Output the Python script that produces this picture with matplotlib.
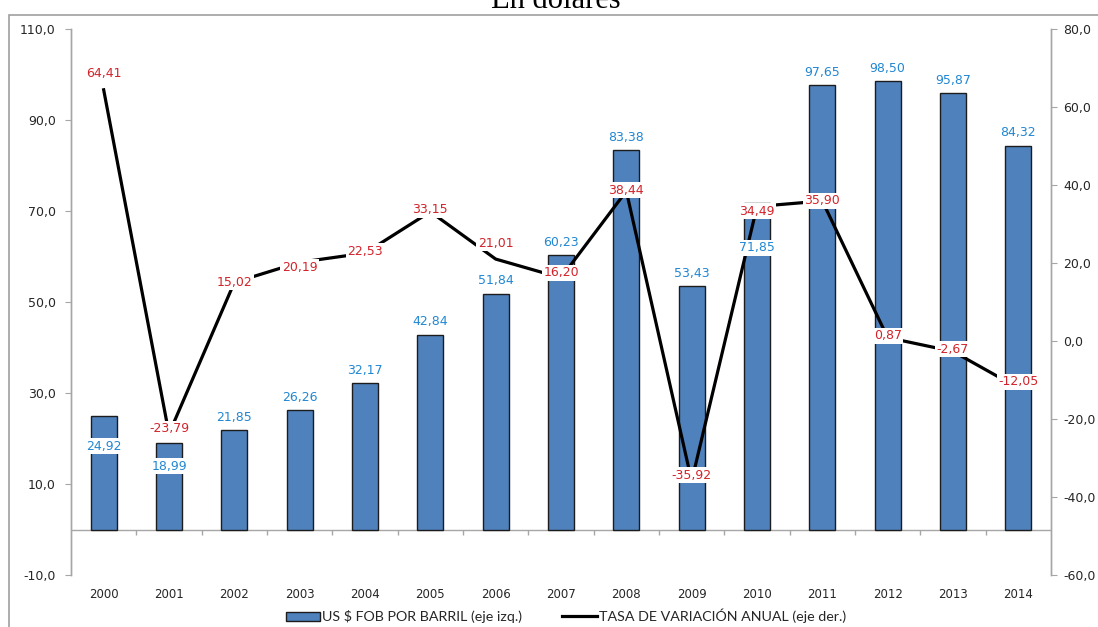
import matplotlib
matplotlib.use("Agg")
import matplotlib.pyplot as plt
import matplotlib.patches as mpatches
from matplotlib.lines import Line2D
import numpy as np

# datos
years = ["2000", "2001", "2002", "2003", "2004", "2005", "2006", "2007",
         "2008", "2009", "2010", "2011", "2012", "2013", "2014"]
price = [24.92, 18.99, 21.85, 26.26, 32.17, 42.84, 51.84, 60.23,
         83.38, 53.43, 71.85, 97.65, 98.50, 95.87, 84.32]
rate = [64.41, -23.79, 15.02, 20.19, 22.53, 33.15, 21.01, 16.20,
        38.44, -35.92, 34.49, 35.90, 0.87, -2.67, -12.05]
left_ticks = [-10, 10, 30, 50, 70, 90, 110]
right_ticks = [-60, -40, -20, 0, 20, 40, 60, 80]

# label offsets in pixels (up is positive)
price_off = [-30, -23, 13, 13, 13, 13, 13, 13, 13, 13, -45, 13, 13, 13, 13]
rate_off = [16, 5, 0, -5, 2, 2, 16, 5, 1, 6, -5, 0, 2, 2, 6]

W, H = 1098, 627
BAR = "#4F81BD"
BLUE_TXT = "#2187D3"
RED_TXT = "#D2232A"
GRID = "#A6A6A6"
TXT = "#262626"


def fmt(v, n):
    return f"{v:.{n}f}".replace(".", ",")


def main():
    fig = plt.figure(figsize=(W / 100, H / 100), dpi=100)
    ax = fig.add_axes([71 / W, 1 - 575 / H, (1051 - 71) / W, (575 - 29) / H])
    ax2 = ax.twinx()

    x = np.arange(len(years))
    ax.bar(x, price, width=0.4, color=BAR, edgecolor="#1c1c1c", linewidth=1, zorder=2)
    ax2.plot(x, rate, color="black", linewidth=2.3, zorder=3)

    ax.set_xlim(-0.5, len(years) - 0.5)
    ax.set_ylim(-10, 110)
    ax2.set_ylim(-60, 80)

    # zero line with category ticks
    ax.axhline(0, color=GRID, linewidth=1, zorder=1)
    ax.vlines(np.arange(0.5, len(years) - 1), -1.1, 0, color=GRID, linewidth=1, zorder=1)

    ax.set_xticks(x)
    ax.set_xticklabels(years, fontsize=8.5, color=TXT)
    ax.tick_params(axis="x", length=0, pad=9)

    ax.set_yticks(left_ticks)
    ax.set_yticklabels([fmt(v, 1) for v in left_ticks], fontsize=9, color=TXT)
    ax.tick_params(axis="y", direction="out", length=4, color=GRID, pad=7)
    ax2.set_yticks(right_ticks)
    ax2.set_yticklabels([fmt(v, 1) for v in right_ticks], fontsize=9, color=TXT)
    ax2.tick_params(axis="y", direction="out", length=4, color=GRID, pad=5)

    for a in (ax, ax2):
        for s in ("top", "bottom"):
            a.spines[s].set_visible(False)
        for s in ("left", "right"):
            a.spines[s].set_color(GRID)
            a.spines[s].set_linewidth(1)

    box = dict(boxstyle="square,pad=0.12", facecolor="white", edgecolor="none")
    for i in range(len(years)):
        ax2.annotate(fmt(price[i], 2), xy=(i, price[i]), xycoords=ax.transData,
                     xytext=(0, price_off[i] * 0.72), textcoords="offset points",
                     ha="center", va="center", fontsize=9, color=BLUE_TXT,
                     bbox=box, zorder=5)
        ax2.annotate(fmt(rate[i], 2), xy=(i, rate[i]),
                     xytext=(0, rate_off[i] * 0.72), textcoords="offset points",
                     ha="center", va="center", fontsize=9, color=RED_TXT,
                     bbox=box, zorder=5)

    # outer frame of the chart area
    frame = mpatches.Rectangle((9 / W, -0.1), 1.2, 1 - 15 / H + 0.1,
                               transform=fig.transFigure, fill=False,
                               edgecolor="#A0A0A0", linewidth=1.2)
    fig.patches.append(frame)

    fig.text(556 / W, 1 - 8 / H, "En dólares", family="Liberation Serif",
             fontsize=22, ha="center", va="baseline")

    handles = [mpatches.Patch(facecolor=BAR, edgecolor="#1c1c1c", linewidth=1),
               Line2D([], [], color="black", linewidth=2.3)]
    fig.legend(handles, ["US $ FOB POR BARRIL (eje izq.)",
                         "TASA DE VARIACIÓN ANUAL (eje der.)"],
               loc="center", bbox_to_anchor=(566 / W, 1 - 616 / H), ncol=2,
               frameon=False, prop={"family": "Lato", "size": 10.3},
               handlelength=2.4, handleheight=0.6, handletextpad=0.15,
               columnspacing=2.8, labelcolor=TXT)

    fig.savefig("out.png", dpi=100)


if __name__ == '__main__':
    main()
